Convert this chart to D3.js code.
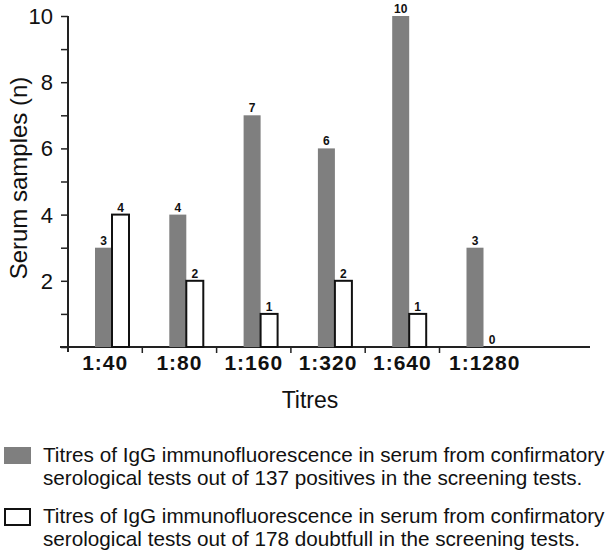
<!DOCTYPE html>
<html>
<head>
<meta charset="utf-8">
<script src="https://cdn.jsdelivr.net/npm/d3@7"></script>
<style>
  body { margin: 0; background: #fff; }
  svg { display: block; font-family: "Liberation Sans", Arial, sans-serif; }
</style>
</head>
<body>
<div id="chart"></div>
<script>
// data
var titres = ["1:40", "1:80", "1:160", "1:320", "1:640", "1:1280"];
var positives = [3, 4, 7, 6, 10, 3];
var doubtful = [4, 2, 1, 2, 1, 0];
var yTicks = [2, 4, 6, 8, 10];
var seriesKeys = ["positives", "doubtful"];
var legendLines = [
  ["Titres of IgG immunofluorescence in serum from confirmatory",
   "serological tests out of 137 positives in the screening tests."],
  ["Titres of IgG immunofluorescence in serum from confirmatory",
   "serological tests out of 178 doubtfull in the screening tests."]
];

var W = 610, H = 556;
var x0 = 68, step = 74.3;
var svg = d3.select("#chart").append("svg").attr("width", W).attr("height", H);

// scales
var xScale = d3.scaleBand().domain(titres).range([x0, x0 + step * titres.length]).padding(0);
var x1Scale = d3.scaleBand().domain(seriesKeys).range([27, 61]);
var yScale = d3.scaleLinear().domain([0, 10]).range([347, 16]);

var rows = [];
titres.forEach(function(t, i) {
  rows.push({ x: t, key: "positives", y: positives[i] });
  rows.push({ x: t, key: "doubtful", y: doubtful[i] });
});

// y axis
var yAxisG = svg.append("g").attr("transform", "translate(" + x0 + ",0)");
yAxisG.call(d3.axisLeft(yScale).tickValues(d3.range(0, 11)).tickSize(7).tickFormat(""));
yAxisG.select(".domain").remove();
yAxisG.selectAll(".tick line").attr("stroke", "#222").attr("stroke-width", 1.5);
yAxisG.append("line").attr("x1", 0).attr("x2", 0)
  .attr("y1", yScale(10)).attr("y2", yScale(0) + 5)
  .attr("stroke", "#222").attr("stroke-width", 2);
yAxisG.selectAll("text.ylab")
  .data(yTicks).enter().append("text")
  .attr("class", "ylab")
  .attr("x", -15)
  .attr("y", function(d) { return yScale(d); })
  .attr("dy", "0.36em")
  .attr("text-anchor", "end")
  .attr("font-size", 22)
  .attr("fill", "#111")
  .text(function(d) { return d; });

svg.append("text")
  .attr("transform", "translate(27," + 178 + ") rotate(-90)")
  .attr("text-anchor", "middle")
  .attr("font-size", 24)
  .attr("fill", "#111")
  .text("Serum samples (n)");

// x axis
svg.append("line")
  .attr("x1", 60).attr("x2", 590)
  .attr("y1", yScale(0)).attr("y2", yScale(0))
  .attr("stroke", "#222").attr("stroke-width", 2);
svg.selectAll("line.xtick")
  .data(titres.slice(1)).enter().append("line")
  .attr("class", "xtick")
  .attr("x1", function(d) { return xScale(d); })
  .attr("x2", function(d) { return xScale(d); })
  .attr("y1", yScale(0)).attr("y2", yScale(0) + 6)
  .attr("stroke", "#222").attr("stroke-width", 1.5);
svg.selectAll("text.xlab")
  .data(titres).enter().append("text")
  .attr("class", "xlab")
  .attr("x", function(d, i) {
    // the last label sits a little right of its band in the original
    return xScale(d) + xScale.bandwidth() / 2 + (i == titres.length - 1 ? 8 : 0);
  })
  .attr("y", 370)
  .attr("text-anchor", "middle")
  .attr("font-size", 21)
  .attr("font-weight", "bold")
  .attr("letter-spacing", 1)
  .attr("fill", "#111")
  .text(function(d) { return d; });

svg.append("text")
  .attr("x", 310).attr("y", 408)
  .attr("text-anchor", "middle")
  .attr("font-size", 23)
  .attr("fill", "#111")
  .text("Titres");

// bars
var barG = svg.append("g");
barG.selectAll("rect")
  .data(rows.filter(function(d) { return d.y > 0; }))
  .enter().append("rect")
  .attr("x", function(d) { return xScale(d.x) + x1Scale(d.key); })
  .attr("y", function(d) { return yScale(d.y); })
  .attr("width", x1Scale.bandwidth())
  .attr("height", function(d) { return yScale(0) - yScale(d.y); })
  .attr("fill", function(d) { return d.key == "positives" ? "#7f7f7f" : "#fff"; })
  .attr("stroke", function(d) { return d.key == "positives" ? "none" : "#111"; })
  .attr("stroke-width", 2);

barG.selectAll("text")
  .data(rows)
  .enter().append("text")
  .attr("x", function(d) { return xScale(d.x) + x1Scale(d.key) + x1Scale.bandwidth() / 2; })
  .attr("y", function(d) { return yScale(d.y) - 3; })
  .attr("text-anchor", "middle")
  .attr("font-size", 12)
  .attr("font-weight", "bold")
  .attr("fill", "#111")
  .text(function(d) { return d.y; });

// legend
var legend = svg.selectAll("g.legend")
  .data(seriesKeys).enter().append("g")
  .attr("class", "legend")
  .attr("transform", function(d, i) { return "translate(0," + (i == 0 ? 0 : 61) + ")"; });
legend.append("rect")
  .attr("x", function(d) { return d == "positives" ? 4 : 5; })
  .attr("y", function(d) { return d == "positives" ? 447 : 448; })
  .attr("width", function(d) { return d == "positives" ? 27 : 25; })
  .attr("height", function(d) { return d == "positives" ? 17 : 16; })
  .attr("fill", function(d) { return d == "positives" ? "#7f7f7f" : "#fff"; })
  .attr("stroke", function(d) { return d == "positives" ? "none" : "#111"; })
  .attr("stroke-width", 2);
legend.each(function(d, i) {
  var g = d3.select(this);
  legendLines[i].forEach(function(line, j) {
    g.append("text")
      .attr("x", 43)
      .attr("y", 462 + j * 23)
      .attr("font-size", 20.7)
      .attr("fill", "#111")
      .text(line);
  });
});
</script>
</body>
</html>
